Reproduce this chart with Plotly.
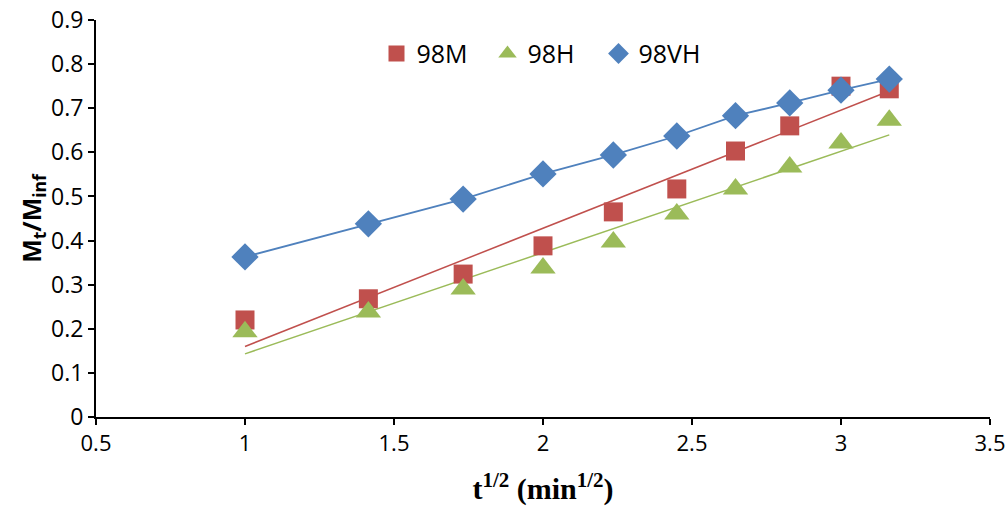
import numpy as np
import plotly.graph_objects as go

x = [1.0, 1.414, 1.732, 2.0, 2.236, 2.449, 2.646, 2.828, 3.0, 3.162]
y_98M = [0.220, 0.268, 0.324, 0.388, 0.465, 0.517, 0.603, 0.660, 0.750, 0.744]
y_98H = [0.193, 0.238, 0.290, 0.338, 0.397, 0.460, 0.517, 0.567, 0.621, 0.673]
y_98VH = [0.363, 0.438, 0.494, 0.551, 0.594, 0.637, 0.683, 0.712, 0.741, 0.766]

RED = "#C0504D"
GREEN = "#9BBB59"
BLUE = "#4F81BD"

fig = go.Figure()

# linear trend lines for 98M and 98H
xa = np.array(x)
for ys, col in [(y_98M, RED), (y_98H, GREEN)]:
    k, b = np.polyfit(xa, np.array(ys), 1)
    xs = [xa.min(), xa.max()]
    fig.add_trace(go.Scatter(x=xs, y=[k * v + b for v in xs], mode="lines",
                             line=dict(color=col, width=1.5), showlegend=False,
                             hoverinfo="skip"))

fig.add_trace(go.Scatter(x=x, y=y_98VH, mode="lines", line=dict(color=BLUE, width=1.8),
                         showlegend=False, hoverinfo="skip"))

fig.add_trace(go.Scatter(x=x, y=y_98M, mode="markers", name="98M",
                         marker=dict(symbol="square", size=19, color=RED)))
fig.add_trace(go.Scatter(x=x, y=y_98H, mode="markers", name="98H",
                         marker=dict(symbol="triangle-up", size=22, color=GREEN)))
fig.add_trace(go.Scatter(x=x, y=y_98VH, mode="markers", name="98VH",
                         marker=dict(symbol="diamond", size=21, color=BLUE)))

fig.update_layout(
    width=1007, height=514,
    margin=dict(l=96, r=17, t=20, b=97),
    paper_bgcolor="white", plot_bgcolor="white",
    font=dict(family="Open Sans, Liberation Sans, sans-serif", size=22, color="black"),
    legend=dict(orientation="h", x=0.5, xanchor="center", y=0.915, yanchor="middle",
                font=dict(size=25), itemwidth=30, entrywidth=66,
                bgcolor="rgba(0,0,0,0)"),
    xaxis=dict(range=[0.5, 3.5], dtick=0.5, showgrid=False, zeroline=False,
               showline=True, linecolor="black", linewidth=2, automargin=False,
               ticks="outside", ticklen=6, tickcolor="black", tickwidth=1.5,
               tickfont=dict(size=22), ticklabeloverflow="allow",
               title=dict(text="<b>t<sup>1/2</sup> (min<sup>1/2</sup>)</b>",
                          font=dict(family="Liberation Serif, Times New Roman, serif", size=30),
                          standoff=22)),
    yaxis=dict(range=[0, 0.9], dtick=0.1, showgrid=False, zeroline=False,
               showline=True, linecolor="black", linewidth=2, automargin=False,
               ticks="outside", ticklen=6, tickcolor="black", tickwidth=1.5,
               tickfont=dict(size=23), ticklabeloverflow="allow",
               title=dict(text="<b>M<sub>t</sub>/M<sub>inf</sub></b>",
                          font=dict(family="Open Sans, Liberation Sans, sans-serif", size=25),
                          standoff=0)),
)

fig.write_html("out.html", config={"displayModeBar": False},
               post_script="document.body.style.margin='0';")
